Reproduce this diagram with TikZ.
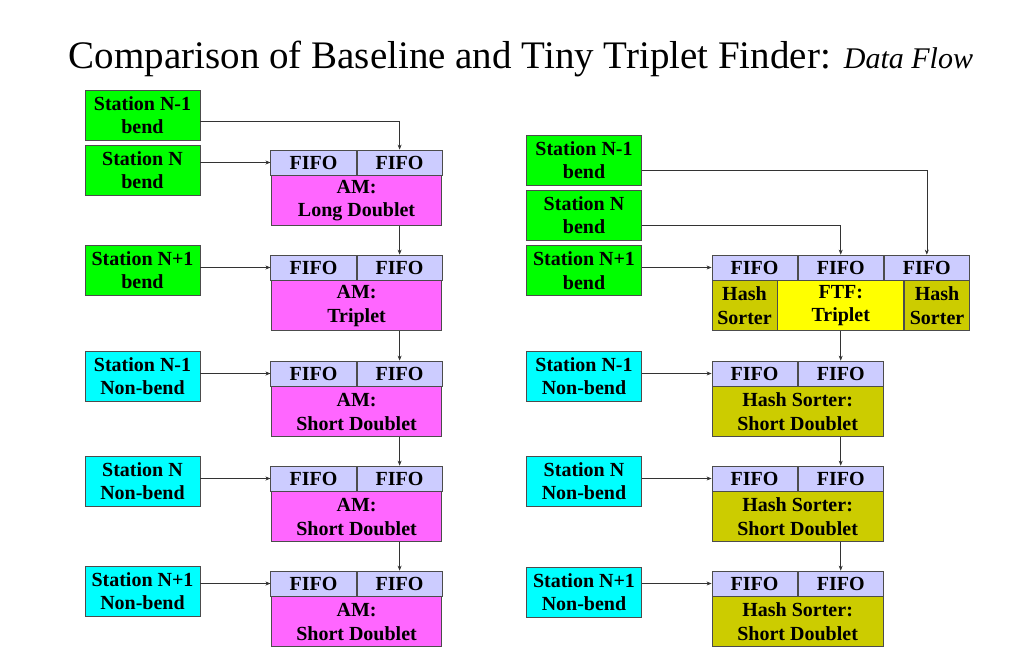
\documentclass[tikz,border=0pt]{standalone}
\usepackage{fontspec}
\setmainfont{Liberation Serif}
\usetikzlibrary{positioning,arrows.meta}

\definecolor{bendgreen}{HTML}{00FF00}
\definecolor{flatcyan}{HTML}{00FFFF}
\definecolor{fifoblue}{HTML}{CCCCFF}
\definecolor{ampink}{HTML}{FF66FF}
\definecolor{sortolive}{HTML}{CCCC00}
\definecolor{ftfyellow}{HTML}{FFFF00}

\tikzset{
  boxtext/.style={font=\fontsize{20}{23.5}\selectfont\bfseries, align=center, inner sep=0pt},
  station/.style={boxtext, draw=black!70, line width=0.8pt, minimum width=115pt, minimum height=50pt},
  bendst/.style={station, fill=bendgreen},
  flatst/.style={station, fill=flatcyan},
  fifo/.style={boxtext, draw=black!70, line width=0.8pt, fill=fifoblue, minimum width=85.3pt, minimum height=25pt},
  unit/.style={boxtext, draw=black!70, line width=0.8pt, minimum width=170.6pt, minimum height=50pt},
  flow/.style={-{Stealth[length=5pt,width=4pt]}, black!80, line width=0.6pt}
}

\begin{document}
\begin{tikzpicture}[x=1pt, y=-1pt]
  \useasboundingbox (0,0) rectangle (1024,662);

  \node [anchor=base, font=\fontsize{39}{44}\selectfont] (title) at (521,68)
    {Comparison of Baseline and Tiny Triplet Finder: {\fontsize{30}{34}\selectfont\itshape Data Flow}};

  % baseline
  \node [bendst] (lsa) at (142.5,115) {Station N-1\\bend};
  \node [bendst] (lsb) at (142.5,170) {Station N\\bend};
  \node [bendst] (lsc) at (142.5,270) {Station N+1\\bend};
  \node [flatst] (lsd) at (142.5,376) {Station N-1\\Non-bend};
  \node [flatst] (lse) at (142.5,481) {Station N\\Non-bend};
  \node [flatst] (lsf) at (142.5,591) {Station N+1\\Non-bend};

  \begin{scope}[every node/.append style={fill=ampink}]
    \node [fifo] (la1) at (313.5,162.5) {FIFO};
    \node [fifo, right=0pt of la1] (la2) {FIFO};
    \node [unit, below=0pt of la1.south east] (lam1) {AM:\\Long Doublet};

    \node [fifo] (lb1) at (313.5,267.5) {FIFO};
    \node [fifo, right=0pt of lb1] (lb2) {FIFO};
    \node [unit, below=0pt of lb1.south east] (lam2) {AM:\\Triplet};

    \node [fifo] (lc1) at (313.5,373.5) {FIFO};
    \node [fifo, right=0pt of lc1] (lc2) {FIFO};
    \node [unit, below=0pt of lc1.south east] (lam3) {AM:\\Short Doublet};

    \node [fifo] (ld1) at (313.5,478.5) {FIFO};
    \node [fifo, right=0pt of ld1] (ld2) {FIFO};
    \node [unit, below=0pt of ld1.south east] (lam4) {AM:\\Short Doublet};

    \node [fifo] (le1) at (313.5,583.5) {FIFO};
    \node [fifo, right=0pt of le1] (le2) {FIFO};
    \node [unit, below=0pt of le1.south east] (lam5) {AM:\\Short Doublet};
  \end{scope}

  \draw [flow] ([yshift=-6pt]lsa.east) -| (la2.north);
  \draw [flow] (lsb.east |- la1) -- (la1.west);
  \draw [flow] (lsc.east |- lb1) -- (lb1.west);
  \draw [flow] (lsd.east |- lc1) -- (lc1.west);
  \draw [flow] (lse.east |- ld1) -- (ld1.west);
  \draw [flow] (lsf.east |- le1) -- (le1.west);
  \draw [flow] (lam1.south -| la2) -- (lb2.north);
  \draw [flow] (lam2.south -| lb2) -- (lc2.north);
  \draw [flow] (lam3.south -| lc2) -- (ld2.north);
  \draw [flow] (lam4.south -| ld2) -- (le2.north);

  % tiny triplet finder
  \node [bendst] (rsa) at (584,160) {Station N-1\\bend};
  \node [bendst] (rsb) at (584,215) {Station N\\bend};
  \node [bendst] (rsc) at (584,270.5) {Station N+1\\bend};
  \node [flatst] (rsd) at (584,376) {Station N-1\\Non-bend};
  \node [flatst] (rse) at (584,481) {Station N\\Non-bend};
  \node [flatst] (rsf) at (584,592) {Station N+1\\Non-bend};

  \node [fifo] (ra1) at (754.6,267.5) {FIFO};
  \node [fifo, right=0pt of ra1] (ra2) {FIFO};
  \node [fifo, right=0pt of ra2] (ra3) {FIFO};
  \node [unit, fill=sortolive, minimum width=65pt, anchor=north west] (hsl) at (ra1.south west) {Hash\\Sorter};
  \node [unit, fill=ftfyellow, minimum width=126pt, right=0pt of hsl] (ftf) {FTF:\\Triplet};
  \node [unit, fill=sortolive, minimum width=65pt, right=0pt of ftf] (hsr) {Hash\\Sorter};

  \begin{scope}[every node/.append style={fill=sortolive}]
    \node [fifo] (rb1) at (754.6,373.5) {FIFO};
    \node [fifo, right=0pt of rb1] (rb2) {FIFO};
    \node [unit, below=0pt of rb1.south east] (rhs1) {Hash Sorter:\\Short Doublet};

    \node [fifo] (rc1) at (754.6,478.5) {FIFO};
    \node [fifo, right=0pt of rc1] (rc2) {FIFO};
    \node [unit, below=0pt of rc1.south east] (rhs2) {Hash Sorter:\\Short Doublet};

    \node [fifo] (rd1) at (754.6,583.5) {FIFO};
    \node [fifo, right=0pt of rd1] (rd2) {FIFO};
    \node [unit, below=0pt of rd1.south east] (rhs3) {Hash Sorter:\\Short Doublet};
  \end{scope}

  \draw [flow] ([yshift=-10pt]rsa.east) -| (ra3.north);
  \draw [flow] ([yshift=-10pt]rsb.east) -| (ra2.north);
  \draw [flow] (rsc.east |- ra1) -- (ra1.west);
  \draw [flow] (rsd.east |- rb1) -- (rb1.west);
  \draw [flow] (rse.east |- rc1) -- (rc1.west);
  \draw [flow] (rsf.east |- rd1) -- (rd1.west);
  \draw [flow] (ftf.south -| rb2) -- (rb2.north);
  \draw [flow] (rhs1.south -| rb2) -- (rc2.north);
  \draw [flow] (rhs2.south -| rc2) -- (rd2.north);
\end{tikzpicture}
\end{document}
